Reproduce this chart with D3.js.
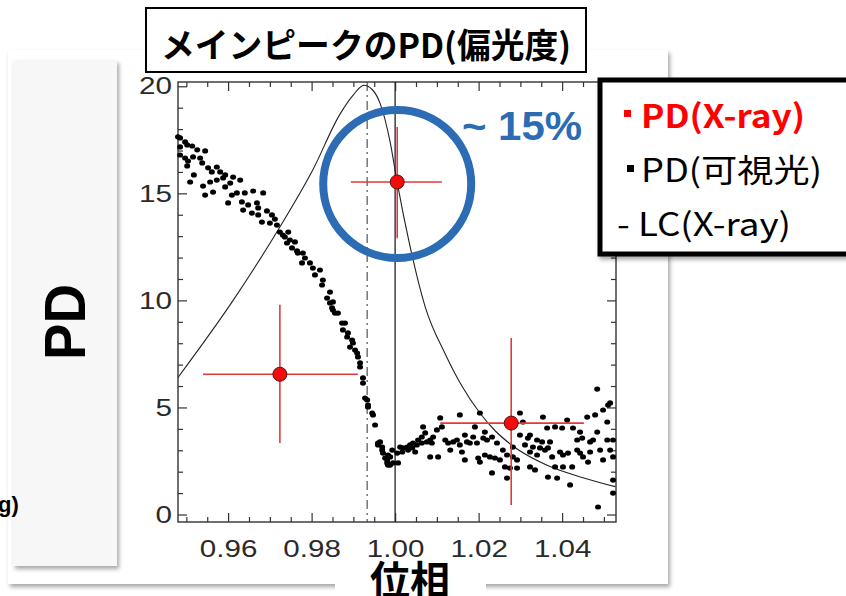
<!DOCTYPE html>
<html>
<head>
<meta charset="utf-8">
<script src="https://cdn.jsdelivr.net/npm/d3@7"></script>
<style>
  html, body { margin: 0; padding: 0; background: #fff; }
  svg { display: block; }
</style>
</head>
<body>
<div id="chart"></div>
<script>
// PD of main peak: X-ray PD points, optical PD dots, X-ray light curve

const xTicks = [0.96, 0.98, 1.00, 1.02, 1.04];
const xTickLabels = ["0.96", "0.98", "1.00", "1.02", "1.04"];
const yTicks = [0, 5, 10, 15, 20];

// X-ray PD with error bars
const xrayPhase   = [0.9724, 1.0005, 1.0278];
const xrayPD      = [6.55, 15.53, 4.27];
const xrayPhaseLo = [0.9540, 0.9894, 1.0108];
const xrayPhaseHi = [0.9911, 1.0112, 1.0452];
const xrayPDLo    = [3.34, 12.9, 0.44];
const xrayPDHi    = [9.8, 18.1, 8.24];

// X-ray light curve (arbitrary units scaled to PD axis)
const lcPhase = [0.948, 0.9612, 0.9720, 0.9803, 0.9868, 0.9900, 0.9925, 0.9945, 0.9964, 0.9988, 1.0005, 1.0036, 1.0072, 1.0120, 1.0160, 1.0203, 1.0240, 1.0282, 1.0364, 1.0450, 1.0527];
const lcValue = [6.4, 10.0, 13.3, 16.1, 18.7, 19.6, 20.05, 19.85, 19.2, 17.4, 15.5, 12.5, 9.7, 7.5, 6.0, 4.74, 3.9, 3.2, 2.3, 1.72, 1.3];

// optical PD (phase, PD)
const opticalPD = [
  [0.9480,17.64],[0.9485,17.59],[0.9497,17.40],[0.9502,17.26],[0.9485,17.17],[0.9514,17.21],[0.9526,17.03],[0.9545,16.98],
  [0.9485,16.79],[0.9497,16.65],[0.9504,16.51],[0.9516,16.70],[0.9533,16.65],[0.9538,16.42],[0.9502,16.28],[0.9552,16.19],
  [0.9561,16.00],[0.9573,16.23],[0.9581,16.00],[0.9593,15.86],[0.9588,15.72],[0.9612,15.76],[0.9629,15.62],[0.9518,15.86],
  [0.9509,15.53],[0.9557,15.53],[0.9573,15.62],[0.9605,15.48],[0.9540,15.34],[0.9545,14.92],[0.9564,15.06],[0.9593,15.30],
  [0.9609,14.92],[0.9621,15.02],[0.9640,15.02],[0.9660,15.11],[0.9684,15.02],[0.9600,14.55],[0.9633,14.60],[0.9648,14.46],
  [0.9669,14.55],[0.9672,14.32],[0.9636,14.22],[0.9657,14.08],[0.9672,13.99],[0.9693,14.18],[0.9705,13.99],[0.9712,13.80],
  [0.9681,13.66],[0.9700,13.61],[0.9717,13.52],[0.9724,13.19],[0.9744,13.19],[0.9736,12.96],[0.9748,12.82],[0.9760,12.73],
  [0.9765,12.31],[0.9779,12.21],
  [0.9731,13.05],[0.9741,12.68],[0.9753,12.45],[0.9767,12.21],[0.9784,11.98],[0.9777,11.75],[0.9796,11.75],[0.9803,11.51],
  [0.9820,11.42],[0.9808,11.19],[0.9827,10.95],[0.9825,10.72],[0.9844,10.39],[0.9837,10.11],[0.9851,9.93],[0.9849,9.65],
  [0.9856,9.41],[0.9873,8.94],[0.9875,8.62],[0.9885,8.29],[0.9897,8.15],[0.9892,7.82],[0.9904,7.68],[0.9911,7.36],
  [0.9916,6.89],[0.9923,6.38],[0.9923,6.14],
  [0.9844,9.88],[0.9851,9.55],[0.9863,9.41],[0.9880,8.94],[0.9887,8.48],[0.9899,8.01],[0.9909,7.54],[0.9916,7.08],
  [0.9933,5.35],[0.9935,5.02],[0.9945,4.74],[0.9952,4.18],[0.9959,3.34],[0.9969,3.15],[0.9971,2.87],[0.9981,2.55],
  [0.9988,2.69],[0.9983,2.31],
  [0.9928,5.44],[0.9935,5.11],[0.9947,4.65],[0.9964,3.39],[0.9959,3.25],[0.9969,3.01],[0.9976,2.64],[0.9981,2.41],
  [0.9988,2.31],[0.9995,2.41],[0.9983,2.78],[0.9993,3.01],[1.0005,2.87],[1.0007,2.41],[1.0012,3.15],[1.0019,3.11],
  [1.0017,2.92],[1.0029,3.15],[1.0036,3.25],[1.0031,3.01],[1.0043,3.34],[1.0041,3.11],[1.0052,3.25],[1.0048,2.92],
  [1.0055,3.48],[1.0064,3.62],[1.0064,3.34],[1.0072,3.81],[1.0076,3.39],[1.0084,3.48],[1.0088,3.34],[1.0084,2.69],
  [1.0103,2.69],[1.0091,3.62],[1.0100,3.95],[1.0108,4.51],[1.0112,4.09],[1.0120,3.48],[1.0127,3.34],[1.0132,3.01],
  [1.0139,3.39],[1.0148,3.48],[1.0155,4.65],[1.0155,3.25],[1.0160,2.92],[1.0167,3.71],[1.0172,3.39],[1.0179,3.34],
  [1.0167,2.55],[1.0187,3.62],[1.0191,4.09],[1.0196,3.34],[1.0199,2.64],[1.0203,2.45],[1.0211,3.57],[1.0067,4.09],
  [1.0203,4.74],[1.0232,1.94],
  [1.0484,5.86],[1.0515,5.21],[1.0498,4.88],[1.0299,4.74],[1.0354,4.55],[1.0412,4.41],[1.0460,4.55],[1.0479,4.65],
  [1.0508,4.32],[1.0306,4.32],[1.0364,4.04],[1.0383,4.09],[1.0400,4.04],[1.0426,4.04],[1.0443,3.85],[1.0484,3.85],
  [1.0215,3.85],[1.0232,3.62],[1.0220,3.48],[1.0244,3.34],[1.0299,3.71],[1.0323,3.71],[1.0318,3.57],[1.0340,3.48],
  [1.0352,3.39],[1.0371,3.39],[1.0436,3.48],[1.0448,3.57],[1.0467,3.39],[1.0474,3.48],[1.0508,3.48],[1.0522,3.48],
  [1.0311,3.25],[1.0330,3.15],[1.0347,3.11],[1.0366,3.11],[1.0282,3.15],[1.0258,3.01],[1.0268,2.78],[1.0323,2.92],
  [1.0359,3.01],[1.0395,2.92],[1.0414,2.87],[1.0436,3.01],[1.0443,2.87],[1.0467,2.92],[1.0491,3.01],[1.0515,3.01],
  [1.0215,2.78],[1.0227,2.69],[1.0239,2.64],[1.0251,2.55],[1.0282,2.69],[1.0292,2.55],[1.0340,2.78],[1.0376,2.69],
  [1.0402,2.78],[1.0450,2.69],[1.0462,2.45],[1.0498,2.55],[1.0522,2.69],[1.0263,2.22],[1.0275,2.17],[1.0292,2.17],
  [1.0323,2.22],[1.0335,2.08],[1.0383,2.22],[1.0402,2.22],[1.0424,2.22],[1.0268,1.70],[1.0366,1.75],[1.0388,1.70],
  [1.0419,1.38],[1.0522,1.61],[1.0486,0.35],[1.0510,5.11],[1.0522,1.00]
];

const W = 846, H = 596;
const plot = { left: 178, right: 616, top: 82, bottom: 522 };

const svg = d3.select("#chart").append("svg")
  .attr("width", W).attr("height", H)
  .attr("viewBox", [0, 0, W, H]);

const defs = svg.append("defs");
defs.append("filter").attr("id", "shadow")
  .attr("x", "-5%").attr("y", "-5%").attr("width", "115%").attr("height", "115%")
  .append("feDropShadow")
  .attr("dx", 2).attr("dy", 3).attr("stdDeviation", 2.2)
  .attr("flood-color", "#000").attr("flood-opacity", 0.35);

// slide panel behind the figure
svg.append("rect")
  .attr("x", 8).attr("y", 50).attr("width", 660).attr("height", 534)
  .attr("fill", "#fff").attr("filter", "url(#shadow)");
svg.append("rect")
  .attr("x", 13).attr("y", 60).attr("width", 104).attr("height", 506)
  .attr("fill", "#f7f7f7").attr("filter", "url(#shadow)");

const x = d3.scaleLinear().domain([0.948, 1.0529]).range([plot.left, plot.right]);
const y = d3.scaleLinear().domain([-0.35, 20.2]).range([plot.bottom, plot.top]);

const minorX = d3.range(0.950, 1.0526, 0.005).filter(v => !xTicks.some(t => Math.abs(t - v) < 1e-6));
const minorY = d3.range(0, 20.5, 1).filter(v => v % 5 !== 0);

const axColor = "#333";
const g = svg.append("g");

// minor ticks (inward) on all four sides
g.append("g").attr("transform", `translate(0,${plot.bottom})`)
  .call(d3.axisBottom(x).tickValues(minorX).tickSize(-5).tickFormat(""));
g.append("g").attr("transform", `translate(0,${plot.top})`)
  .call(d3.axisTop(x).tickValues(minorX).tickSize(-5).tickFormat(""));
g.append("g").attr("transform", `translate(${plot.left},0)`)
  .call(d3.axisLeft(y).tickValues(minorY).tickSize(-5).tickFormat(""));
g.append("g").attr("transform", `translate(${plot.right},0)`)
  .call(d3.axisRight(y).tickValues(minorY).tickSize(-5).tickFormat(""));

// major ticks
g.append("g").attr("transform", `translate(0,${plot.bottom})`)
  .call(d3.axisBottom(x).tickValues(xTicks).tickSize(-9).tickPadding(18)
    .tickFormat((d, i) => xTickLabels[i]));
g.append("g").attr("transform", `translate(0,${plot.top})`)
  .call(d3.axisTop(x).tickValues(xTicks).tickSize(-9).tickFormat(""));
g.append("g").attr("transform", `translate(${plot.left},0)`)
  .call(d3.axisLeft(y).tickValues(yTicks).tickSize(-9).tickPadding(6));
g.append("g").attr("transform", `translate(${plot.right},0)`)
  .call(d3.axisRight(y).tickValues(yTicks).tickSize(-9).tickFormat(""));

g.selectAll(".domain").remove();
g.selectAll(".tick line").attr("stroke", axColor).attr("stroke-width", 1.2);
g.selectAll(".tick text")
  .attr("fill", "#2a2a2a")
  .attr("font-family", "'Liberation Sans', Arial, sans-serif")
  .attr("font-size", 24)
  .attr("lengthAdjust", "spacingAndGlyphs")
  .attr("textLength", function () {
    const s = this.textContent;
    return s.replace(/\./g, "").length * 16.5 + (s.includes(".") ? 8 : 0);
  });

// plot frame
g.append("rect")
  .attr("x", plot.left).attr("y", plot.top)
  .attr("width", plot.right - plot.left).attr("height", plot.bottom - plot.top)
  .attr("fill", "none").attr("stroke", axColor).attr("stroke-width", 1.4);

// reference lines: phase 1.00 (solid) and light-curve peak (dash-dot)
g.append("line")
  .attr("x1", x(1.0)).attr("x2", x(1.0)).attr("y1", plot.top).attr("y2", plot.bottom)
  .attr("stroke", "#222").attr("stroke-width", 1.3);
g.append("line")
  .attr("x1", x(0.9933)).attr("x2", x(0.9933)).attr("y1", plot.top).attr("y2", plot.bottom)
  .attr("stroke", "#444").attr("stroke-width", 1.1).attr("stroke-dasharray", "9,4,2,4");

// light curve
const lc = lcPhase.map((p, i) => [p, lcValue[i]]);
g.append("path")
  .datum(lc)
  .attr("fill", "none").attr("stroke", "#222").attr("stroke-width", 1.1)
  .attr("d", d3.line().x(d => x(d[0])).y(d => y(d[1])).curve(d3.curveMonotoneX));

// optical PD dots
g.append("g").selectAll("ellipse")
  .data(opticalPD)
  .join("ellipse")
  .attr("cx", d => x(d[0])).attr("cy", d => y(d[1]))
  .attr("rx", 3).attr("ry", 2.6)
  .attr("fill", "#000");

// X-ray PD with error bars
const xr = g.append("g");
xrayPhase.forEach((p, i) => {
  xr.append("line")
    .attr("x1", x(xrayPhaseLo[i])).attr("x2", x(xrayPhaseHi[i]))
    .attr("y1", y(xrayPD[i])).attr("y2", y(xrayPD[i]))
    .attr("stroke", "#e03a3a").attr("stroke-width", 1.6);
  xr.append("line")
    .attr("x1", x(p)).attr("x2", x(p))
    .attr("y1", y(xrayPDLo[i])).attr("y2", y(xrayPDHi[i]))
    .attr("stroke", "#e03a3a").attr("stroke-width", 1.6);
  xr.append("circle")
    .attr("cx", x(p)).attr("cy", y(xrayPD[i])).attr("r", 7)
    .attr("fill", "#f20d0d").attr("stroke", "#5a1010").attr("stroke-width", 1);
});

// highlight circle around the main-peak X-ray point
svg.append("circle")
  .attr("cx", x(xrayPhase[1])).attr("cy", y(xrayPD[1]) + 2).attr("r", 74)
  .attr("fill", "none").attr("stroke", "#2b6cb4").attr("stroke-width", 8);
svg.append("text")
  .attr("x", 462).attr("y", 140)
  .attr("fill", "#2b6cb4")
  .attr("font-family", "'Liberation Sans', Arial, sans-serif")
  .attr("font-weight", "bold").attr("font-size", 40)
  .attr("lengthAdjust", "spacingAndGlyphs").attr("textLength", 120)
  .text("~ 15%");

// title box
svg.append("rect")
  .attr("x", 146).attr("y", 8).attr("width", 440).attr("height", 64)
  .attr("fill", "#fff").attr("stroke", "#000").attr("stroke-width", 2);
svg.append("text")
  .attr("x", 366).attr("y", 58)
  .attr("text-anchor", "middle")
  .attr("font-family", "'Noto Sans CJK JP', sans-serif")
  .attr("font-weight", "bold").attr("font-size", 34)
  .attr("lengthAdjust", "spacingAndGlyphs").attr("textLength", 410)
  .text("メインピークのPD(偏光度)");

// legend box
svg.append("rect")
  .attr("x", 600).attr("y", 80).attr("width", 262).attr("height", 174)
  .attr("fill", "#fff").attr("stroke", "#000").attr("stroke-width", 5)
  .attr("filter", "url(#shadow)");
const lgFont = "'Noto Sans CJK JP', sans-serif";
svg.append("rect").attr("x", 624).attr("y", 110).attr("width", 7).attr("height", 7).attr("fill", "#ff0000");
svg.append("text")
  .attr("x", 641).attr("y", 128).attr("fill", "#ff0000")
  .attr("font-family", lgFont).attr("font-weight", "bold").attr("font-size", 32)
  .attr("lengthAdjust", "spacingAndGlyphs").attr("textLength", 164)
  .text("PD(X-ray)");
svg.append("rect").attr("x", 627).attr("y", 165).attr("width", 7).attr("height", 7).attr("fill", "#000");
svg.append("text")
  .attr("x", 641).attr("y", 182).attr("fill", "#000")
  .attr("font-family", lgFont).attr("font-size", 32)
  .attr("lengthAdjust", "spacingAndGlyphs").attr("textLength", 181)
  .text("PD(可視光)");
svg.append("text")
  .attr("x", 617).attr("y", 236).attr("fill", "#000")
  .attr("font-family", lgFont).attr("font-size", 32)
  .attr("lengthAdjust", "spacingAndGlyphs").attr("textLength", 174)
  .text("- LC(X-ray)");

// axis titles
svg.append("text")
  .attr("transform", "translate(85,322) rotate(-90)")
  .attr("text-anchor", "middle")
  .attr("font-family", "'Liberation Sans', Arial, sans-serif")
  .attr("font-weight", "bold").attr("font-size", 58)
  .attr("lengthAdjust", "spacingAndGlyphs").attr("textLength", 76)
  .text("PD");

svg.append("rect").attr("x", 335).attr("y", 570).attr("width", 151).attr("height", 26).attr("fill", "#fff");
svg.append("text")
  .attr("x", 410).attr("y", 595)
  .attr("text-anchor", "middle")
  .attr("font-family", "'Noto Sans CJK JP', sans-serif")
  .attr("font-weight", "bold").attr("font-size", 40)
  .text("位相");

svg.append("text")
  .attr("x", -2).attr("y", 512)
  .attr("font-family", "'Liberation Sans', Arial, sans-serif")
  .attr("font-weight", "bold").attr("font-size", 22)
  .text("g)");
</script>
</body>
</html>
